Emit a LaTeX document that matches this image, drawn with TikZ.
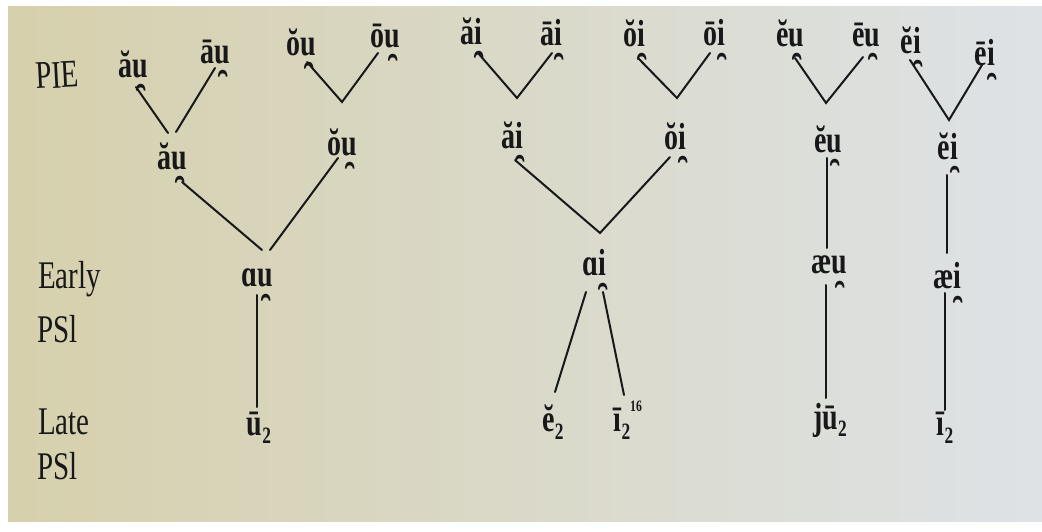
\documentclass[tikz,border=0pt]{standalone}
\usepackage{fontspec}
\usepackage{graphicx}
\setmainfont{Liberation Serif}
\usetikzlibrary{calc}

\definecolor{ink}{RGB}{24,24,26}
\definecolor{pageL}{RGB}{214,208,172}
\definecolor{pageM}{RGB}{208,211,204}
\definecolor{pageR}{RGB}{222,226,230}

% non-syllabic mark (inverted breve below), kept out of the box height
\newcommand\ns[1]{\ooalign{#1\cr\hidewidth\kern0.1em\smash{\raisebox{-0.37em}{\scalebox{1.15}{\rotatebox[origin=c]{180}{\char"02D8}}}}\hidewidth\cr}}
\newcommand\sub[1]{\raisebox{-0.2em}{\scalebox{0.62}{#1}}}
\newcommand\sups[1]{\raisebox{0.55em}{\scalebox{0.42}{#1}}}
\newcommand\tall[1]{\scalebox{1}[1.35]{#1}}

\tikzset{
  form/.style={inner sep=0pt, text=ink, font=\fontsize{28}{30}\selectfont\bfseries},
  stage/.style={inner sep=0pt, text=ink, font=\fontsize{29}{32}\selectfont, anchor=base west},
  branch/.style={draw=ink, line width=2pt, line cap=round},
}

\begin{document}
\begin{tikzpicture}[x=1pt, y=-1pt]
\useasboundingbox (0,0) rectangle (1042,532);
\fill[white] (0,0) rectangle (1042,532);
\shade[left color=pageL, middle color=pageM, right color=pageR] (8,7) rectangle (1042,521);

% stage labels
\node[stage, rotate=3] (pie) at (36,89) {\tall{PIE}};
\node[stage] (early) at (38,288) {\tall{Early}};
\node[stage] (epsl) at (37,342) {\tall{PSl}};
\node[stage] (late) at (38,434) {\tall{Late}};
\node[stage] (lpsl) at (37,479) {\tall{PSl}};

% au series
\node[form] (g1a) at (133,64) {\tall{ă\ns{u}}};
\node[form] (g1b) at (215,52) {\tall{ā\ns{u}}};
\node[form] (g1c) at (301,42) {\tall{ŏ\ns{u}}};
\node[form] (g1d) at (385,36) {\tall{ō\ns{u}}};
\coordinate (g1x) at (342,102);
\node[form] (g1e) at (172,156) {\tall{ă\ns{u}}};
\node[form] (g1f) at (342,142) {\tall{ŏ\ns{u}}};
\node[form] (g1g) at (257,278) {\tall{ɑ\ns{u}}};
\node[form] (g1h) at (259,428) {\tall{ū\sub{2}}};

\draw[branch] ($(g1a)+(3,23)$) -- ($(g1e)+(-4,-23)$);
\draw[branch] ($(g1b)+(0,16)$) -- ($(g1e)+(4,-24)$);
\draw[branch] ($(g1c)+(6,20)$) -- (g1x) -- ($(g1d)+(-7,17)$);
\draw[branch] ($(g1e)+(10,26)$) -- ($(g1g)+(5,-28)$);
\draw[branch] ($(g1f)+(-4,16)$) -- ($(g1g)+(13,-28)$);
\draw[branch] ($(g1g)+(0,17)$) -- ($(g1h)+(-2,-21)$);

% ai series
\node[form] (g2a) at (471,31) {\tall{ă\ns{i}}};
\node[form] (g2b) at (551,33) {\tall{ā\ns{i}}};
\node[form] (g2c) at (634,33) {\tall{ŏ\ns{i}}};
\node[form] (g2d) at (714,33) {\tall{ō\ns{i}}};
\coordinate (g2x) at (517,98);
\coordinate (g2y) at (677,98);
\node[form] (g2e) at (512,135) {\tall{ă\ns{i}}};
\node[form] (g2f) at (675,136) {\tall{ŏ\ns{i}}};
\coordinate (g2z) at (600,233);
\node[form] (g2g) at (594,263) {\tall{ɑ\ns{i}}};
\node[form] (g2h) at (553,422) {\tall{ĕ\sub{2}}};
\node[form] (g2i) at (622,420) {\tall{ī\sub{2}\rlap{\sups{16}}}};

\draw[branch] ($(g2a)+(7,22)$) -- (g2x) -- ($(g2b)+(1,20)$);
\draw[branch] ($(g2c)+(4,25)$) -- (g2y) -- ($(g2d)+(-4,20)$);
\draw[branch] ($(g2e)+(3,25)$) -- (g2z) -- ($(g2f)+(-5,21)$);
\draw[branch] ($(g2g)+(-8,29)$) -- ($(g2h)+(2,-30)$);
\draw[branch] ($(g2g)+(9,29)$) -- ($(g2i)+(2,-25)$);

% eu series
\node[form] (g3a) at (790,33) {\tall{ĕ\ns{u}}};
\node[form] (g3b) at (866,35) {\tall{ē\ns{u}}};
\coordinate (g3x) at (826,103);
\node[form] (g3c) at (828,139) {\tall{ĕ\ns{u}}};
\node[form] (g3d) at (829,265) {\tall{æ\ns{u}}};
\node[form] (g3e) at (830,420) {\tall{jū\sub{2}}};

\draw[branch] ($(g3a)+(5,25)$) -- (g3x) -- ($(g3b)+(-3,22)$);
\draw[branch] ($(g3c)+(-1,19)$) -- ($(g3d)+(-2,-17)$);
\draw[branch] ($(g3d)+(-3,20)$) -- ($(g3e)+(-4,-22)$);

% ei series
\node[form] (g4a) at (911,40) {\tall{ĕ\ns{i}}};
\node[form] (g4b) at (985,53) {\tall{ē\ns{i}}};
\coordinate (g4x) at (949,120);
\node[form] (g4c) at (948,146) {\tall{ĕ\ns{i}}};
\node[form] (g4d) at (947,276) {\tall{æ\ns{i}}};
\node[form] (g4e) at (945,428) {\tall{ī\sub{2}}};

\draw[branch] ($(g4a)+(-1,20)$) -- (g4x) -- ($(g4b)+(-3,12)$);
\draw[branch] ($(g4c)+(-1,29)$) -- ($(g4d)+(0,-23)$);
\draw[branch] ($(g4d)+(-2,17)$) -- ($(g4e)+(0,-18)$);
\end{tikzpicture}
\end{document}
